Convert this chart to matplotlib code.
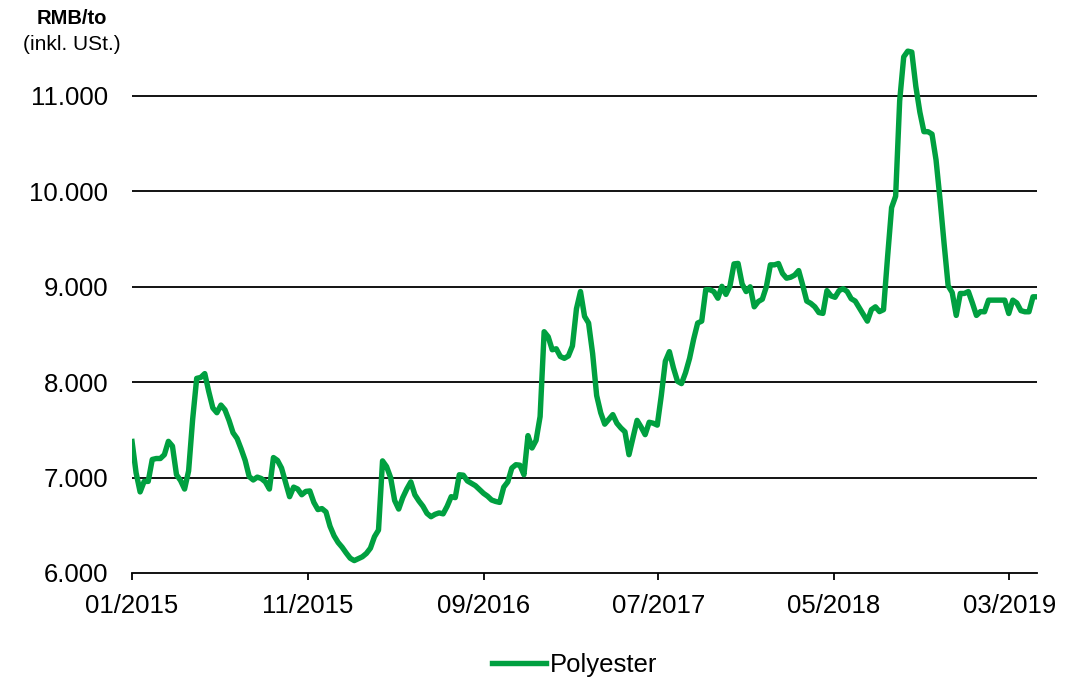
#plot.py

import matplotlib
matplotlib.use("Agg")
import matplotlib.pyplot as plt
from matplotlib.ticker import FuncFormatter
import pandas as pd

#donnees : prix hebdomadaires Polyester (RMB/to, inkl. USt.)
start_date = "2015-01-01"
polyester = [
    7378, 7050, 6850, 6960, 6960, 7190, 7200, 7200, 7240, 7380,
    7330, 7030, 6970, 6880, 7070, 7610, 8040, 8050, 8090, 7900,
    7730, 7680, 7760, 7710, 7600, 7470, 7410, 7300, 7180, 7010,
    6975, 7005, 6990, 6955, 6880, 7210, 7180, 7100, 6950, 6800,
    6900, 6880, 6820, 6855, 6860, 6740, 6665, 6675, 6640, 6490,
    6390, 6320, 6270, 6210, 6155, 6130, 6150, 6170, 6205, 6260,
    6380, 6450, 7175, 7115, 7000, 6760, 6670, 6790, 6880, 6955,
    6820, 6755, 6700, 6625, 6590, 6615, 6630, 6620, 6700, 6800,
    6790, 7030, 7025, 6965, 6940, 6915, 6875, 6835, 6805, 6765,
    6750, 6740, 6900, 6955, 7100, 7135, 7130, 7030, 7440, 7310,
    7390, 7640, 8529, 8476, 8340, 8350, 8270, 8250, 8275, 8380,
    8770, 8950, 8690, 8620, 8300, 7860, 7680, 7560, 7610, 7660,
    7570, 7520, 7480, 7240, 7420, 7600, 7530, 7450, 7580, 7570,
    7550, 7860, 8220, 8320, 8150, 8010, 7985, 8100, 8250, 8450,
    8620, 8640, 8970, 8970, 8950, 8880, 9005, 8920, 9010, 9240,
    9245, 9030, 8950, 9000, 8790, 8845, 8870, 9000, 9230, 9230,
    9244, 9140, 9090, 9100, 9122, 9170, 9017, 8850, 8826, 8790,
    8730, 8721, 8960, 8905, 8890, 8960, 8980, 8950, 8875, 8850,
    8780, 8710, 8640, 8760, 8790, 8740, 8760, 9310, 9830, 9950,
    10950, 11410, 11470, 11460, 11100, 10830, 10626, 10626, 10600, 10330,
    9910, 9450, 9010, 8940, 8700, 8930, 8930, 8950, 8830, 8700,
    8740, 8738, 8860, 8860, 8860, 8860, 8860, 8720, 8860, 8830,
    8750, 8738, 8738, 8895, 8895,
]
tick_dates = ["2015-01-01", "2015-11-01", "2016-09-01", "2017-07-01", "2018-05-01", "2019-03-01"]
tick_labels = ["01/2015", "11/2015", "09/2016", "07/2017", "05/2018", "03/2019"]
y_ticks = [6000, 7000, 8000, 9000, 10000, 11000]

dates = pd.date_range(start_date, periods=len(polyester), freq="7D")

plt.rcParams["font.family"] = ["Liberation Sans", "DejaVu Sans"]

fig = plt.figure(figsize=(10.85, 6.81), dpi=100)
ax = fig.add_axes([0.1217, 0.1586, 0.8341, 0.7705])

#lignes de grille horizontales
for v in y_ticks[1:]:
    ax.axhline(v, color="black", lw=1.3, zorder=1)

ax.plot(dates, polyester, color="#00A040", lw=3.9, label="Polyester", zorder=3)

ax.set_xlim(dates[0], dates[-1])
ax.set_ylim(6000, 11500)
ax.set_yticks(y_ticks)
ax.yaxis.set_major_formatter(FuncFormatter(lambda v, p: f"{int(v):,}".replace(",", ".")))
ax.set_xticks(pd.to_datetime(tick_dates))
ax.set_xticklabels(tick_labels)

for s in ["left", "right", "top"]:
    ax.spines[s].set_visible(False)
ax.spines["bottom"].set_linewidth(1.3)
ax.tick_params(axis="y", length=0, pad=17, labelsize=18.5)
ax.tick_params(axis="x", length=5, width=1.3, direction="out", pad=10, labelsize=18.5)

#titre de l'axe y
fig.text(0.066, 0.973, "RMB/to", ha="center", va="center", fontsize=14.5, fontweight="bold")
fig.text(0.066, 0.934, "(inkl. USt.)", ha="center", va="center", fontsize=15)

fig.legend(loc="center", bbox_to_anchor=(0.53, 0.024), frameon=False, fontsize=18.5,
           handlelength=2.1, handletextpad=0.15)

fig.savefig("out.png", dpi=100)
